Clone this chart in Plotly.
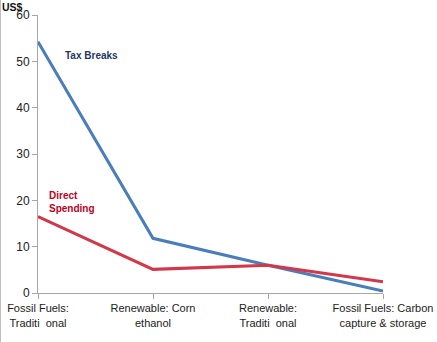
import plotly.graph_objects as go

categories = ["Fossil Fuels:<br>Traditi  onal", "Renewable: Corn<br>ethanol",
              "Renewable:<br>Traditi  onal", "Fossil Fuels: Carbon<br>capture & storage"]
tax_breaks = [54.2, 11.8, 6.0, 0.4]
direct_spending = [16.5, 5.1, 6.0, 2.4]
y_ticks = [0, 10, 20, 30, 40, 50, 60]

xs = list(range(len(categories)))
FONT = "Liberation Sans"

fig = go.Figure()
fig.add_trace(go.Scatter(x=xs, y=tax_breaks, mode="lines",
                         line=dict(color="#4A7EBB", width=3), name="Tax Breaks"))
fig.add_trace(go.Scatter(x=xs, y=direct_spending, mode="lines",
                         line=dict(color="#D2384A", width=3), name="Direct Spending"))

fig.update_layout(
    width=437, height=342,
    margin=dict(l=38, r=54, t=15, b=49, autoexpand=False),
    plot_bgcolor="white", paper_bgcolor="white",
    showlegend=False,
    font=dict(family=FONT, size=11, color="#222222"),
    xaxis=dict(range=[0, 3], tickmode="array", tickvals=xs, ticktext=categories,
               showgrid=False, zeroline=False, showline=True, linecolor="#A6A6A6",
               linewidth=1, ticks="outside", ticklen=5, tickcolor="#A6A6A6",
               automargin=False,
               tickfont=dict(family=FONT, size=11, color="#222222")),
    yaxis=dict(range=[0, 60], tickmode="array", tickvals=y_ticks,
               showgrid=False, zeroline=False, showline=True, linecolor="#A6A6A6",
               linewidth=1, ticks="outside", ticklen=5, tickcolor="#A6A6A6",
               automargin=False,
               tickfont=dict(family=FONT, size=12, color="#222222")),
    annotations=[
        dict(text="<b>US$</b>", xref="paper", yref="paper", x=-38/345, y=1 + 16/278,
             xanchor="left", yanchor="top", showarrow=False,
             font=dict(family=FONT, size=10.5, color="#111111")),
        dict(text="<b>Tax Breaks</b>", xref="x", yref="y", x=0.22, y=51.2,
             xanchor="left", yanchor="middle", showarrow=False,
             font=dict(family=FONT, size=10, color="#1F3864")),
        dict(text="<b>Direct<br>Spending</b>", xref="x", yref="y", x=0.08, y=19.7,
             xanchor="left", yanchor="middle", showarrow=False, align="left",
             font=dict(family=FONT, size=10, color="#C0001E")),
    ],
    shapes=[dict(type="line", xref="paper", yref="paper", x0=-37.5/345, x1=-37.5/345,
                 y0=-49/278, y1=1 + 15/278, line=dict(color="#BFBFBF", width=1))],
)

fig.write_html("out.html")
